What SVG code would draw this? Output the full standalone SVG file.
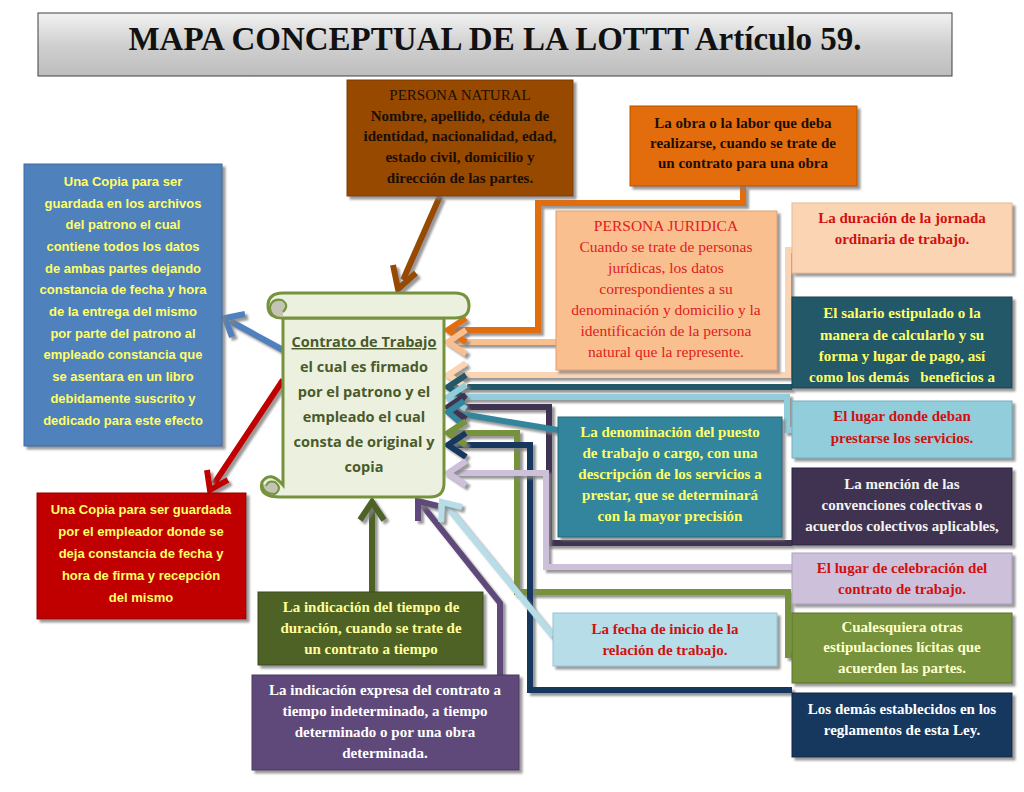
<svg xmlns="http://www.w3.org/2000/svg" width="1024" height="792" viewBox="0 0 1024 792">
<defs>
<linearGradient id="tg" x1="0" y1="0" x2="0" y2="1"><stop offset="0" stop-color="#f2f2f2"/><stop offset="0.5" stop-color="#d0d0d0"/><stop offset="1" stop-color="#bdbdbd"/></linearGradient>
<filter id="sh" filterUnits="userSpaceOnUse" x="0" y="0" width="1024" height="792"><feDropShadow dx="3" dy="3" stdDeviation="1" flood-color="#808080" flood-opacity="0.8"/></filter>
<style>
.b{filter:url(#sh)}
.c{fill:none;stroke-width:6;stroke-linejoin:miter;filter:url(#sh)}
</style>
</defs>
<rect width="1024" height="792" fill="#fff"/>
<g id="title"><rect x="38" y="13" width="914" height="63" fill="url(#tg)" stroke="#404040" stroke-width="1"/>
<text x="495" y="50" font-family="Liberation Serif,serif" font-size="33" font-weight="bold" text-anchor="middle" fill="#111">MAPA CONCEPTUAL DE LA LOTTT Artículo 59.</text></g>

<g id="connectors">
<polyline class="c" stroke="#974806" points="440,196 403,280"/>
<polyline class="c" stroke="#e36c09" points="743,186 743,203 538,203 538,330 450,330"/>
<polyline class="c" stroke="#fabf8f" points="556,342 450,342"/>
<polyline class="c" stroke="#fbd4b4" points="792,250 788,250 788,375 450,375"/>
<polyline class="c" stroke="#215867" points="792,387 450,387"/>
<polyline class="c" stroke="#92cddc" points="792,430 787,430 787,397 450,397"/>
<polyline class="c" stroke="#3f3151" points="792,543 549,543 549,407 450,407"/>
<polyline class="c" stroke="#31859c" points="558,430 450,412"/>
<polyline class="c" stroke="#76923c" points="792,655 788,655 788,592 517,592 517,433 450,433"/>
<polyline class="c" stroke="#17375e" points="792,690 530,690 530,445 450,445"/>
<polyline class="c" stroke="#ccc0da" points="792,567 546,567 546,473 450,473"/>
<polyline class="c" stroke="#4f81bd" points="283,350 230,321"/>
<polyline class="c" stroke="#c00000" points="283,380 214,484"/>
<polyline class="c" stroke="#4f6228" points="372,592 372,506"/>
<polyline class="c" stroke="#5f497a" points="500,675 500,603 422,505"/>
<polyline class="c" stroke="#b7dde8" points="553,636 446,505"/>
<g fill="none" stroke-width="6" filter="url(#sh)">
<polyline stroke="#974806" points="393,265 398,289 416,273"/>
<polyline stroke="#e36c09" points="466,318 448,330 466,342"/>
<polyline stroke="#fabf8f" points="466,330 448,342 466,354"/>
<polyline stroke="#fbd4b4" points="466,363 448,375 466,387"/>
<polyline stroke="#215867" points="466,375 448,387 466,399"/>
<polyline stroke="#92cddc" points="466,385 448,397 466,409"/>
<polyline stroke="#3f3151" points="466,395 448,407 466,419"/>
<polyline stroke="#31859c" points="464,401 448,412 462,424"/>
<polyline stroke="#76923c" points="466,421 448,433 466,445"/>
<polyline stroke="#17375e" points="466,433 448,445 466,457"/>
<polyline stroke="#ccc0da" points="466,461 448,473 466,485"/>
<polyline stroke="#4f81bd" points="232,337 225,318 245,314"/>
<polyline stroke="#c00000" points="207,470 210,490 228,480"/>
<polyline stroke="#4f6228" points="360,520 372,502 384,520"/>
<polyline stroke="#5f497a" points="418,521 418,501 438,506"/>
<polyline stroke="#b7dde8" points="441,522 442,502 462,507"/>
</g>
</g>

<g id="scroll">
<path d="M283,318 L283,485 Q270,470 262,482 Q258,498 283,497 L430,497 Q444,497 444,483 L444,318 Z" fill="#ebf1de" stroke="#76923c" stroke-width="3"/>
<path d="M283,293 L455,293 Q469,293 469,306 Q469,318 455,318 L283,318 Q268,318 268,306 Q268,293 283,293 Z" fill="#ebf1de" stroke="#76923c" stroke-width="3"/>
<path d="M283,318 Q270,318 270,307 Q272,298 282,300 Q290,305 283,312" fill="#c4c4b4" stroke="#76923c" stroke-width="2"/>
<path d="M262,482 Q262,494 275,494 Q283,488 275,482 Q268,480 266,486" fill="#c4c4b4" stroke="#76923c" stroke-width="2"/>
<g font-family="Open Sans,Liberation Sans,sans-serif" font-size="14.5" font-weight="bold" fill="#4a5a2a" text-anchor="middle">
<text x="364" y="347" text-decoration="underline">Contrato de Trabajo</text>
<text x="364" y="372">el cual es firmado</text>
<text x="364" y="397">por el patrono y el</text>
<text x="364" y="422">empleado el cual</text>
<text x="364" y="447">consta de original y</text>
<text x="364" y="472">copia</text></g>
</g>

<g font-family="Liberation Serif,serif" font-size="15" font-weight="bold" text-anchor="middle">
<g id="persona-natural"><rect class="b" x="347" y="80" width="226" height="116" fill="#974806" stroke="#7f3c05"/>
<g fill="#1a0f05"><text x="460" y="100" font-weight="normal">PERSONA NATURAL</text><text x="460" y="121">Nombre, apellido, cédula de</text><text x="460" y="141">identidad, nacionalidad, edad,</text><text x="460" y="162">estado civil, domicilio y</text><text x="460" y="183">dirección de las partes.</text></g></g>

<g id="obra"><rect class="b" x="630" y="106" width="227" height="80" fill="#e36c09" stroke="#b35500"/>
<g fill="#1a0f05"><text x="743" y="128">La obra o la labor que deba</text><text x="743" y="148">realizarse, cuando se trate de</text><text x="743" y="168">un contrato para una obra</text></g></g>

<g id="persona-juridica"><rect class="b" x="556" y="211" width="221" height="159" fill="#fabf8f" stroke="#e0a070"/>
<g fill="#e02020" font-weight="normal" font-size="15.5"><text x="666" y="231">PERSONA JURIDICA</text><text x="666" y="252">Cuando se trate de personas</text><text x="666" y="273">jurídicas, los datos</text><text x="666" y="294">correspondientes a su</text><text x="666" y="315">denominación y domicilio y la</text><text x="666" y="336">identificación de la persona</text><text x="666" y="357">natural que la represente.</text></g></g>

<g id="duracion"><rect class="b" x="792" y="203" width="220" height="70" fill="#fbd4b4" stroke="#e8b890"/>
<g fill="#d01010"><text x="902" y="223">La duración de la jornada</text><text x="902" y="244">ordinaria de trabajo.</text></g></g>

<g id="salario"><rect class="b" x="792" y="297" width="220" height="91" fill="#215867" stroke="#174450"/>
<g fill="#ffff66"><text x="902" y="318">El salario estipulado o la</text><text x="902" y="340">manera de calcularlo y su</text><text x="902" y="361">forma y lugar de pago, así</text><text x="902" y="382" xml:space="preserve">como los demás   beneficios a</text></g></g>

<g id="lugar-servicios"><rect class="b" x="792" y="401" width="220" height="57" fill="#92cddc" stroke="#70b0c0"/>
<g fill="#d01010"><text x="902" y="421">El lugar donde deban</text><text x="902" y="443">prestarse los servicios.</text></g></g>

<g id="mencion"><rect class="b" x="792" y="468" width="220" height="77" fill="#3f3151" stroke="#2e2340"/>
<g fill="#f2f2f2"><text x="902" y="489">La mención de las</text><text x="902" y="510">convenciones colectivas o</text><text x="902" y="531">acuerdos colectivos aplicables,</text></g></g>

<g id="lugar-celebracion"><rect class="b" x="792" y="553" width="220" height="51" fill="#ccc0da" stroke="#b0a0c0"/>
<g fill="#d01010"><text x="902" y="573">El lugar de celebración del</text><text x="902" y="594">contrato de trabajo.</text></g></g>

<g id="cualesquiera"><rect class="b" x="792" y="613" width="220" height="70" fill="#76923c" stroke="#5a7428"/>
<g fill="#ffffcc"><text x="902" y="632">Cualesquiera otras</text><text x="902" y="652">estipulaciones lícitas que</text><text x="902" y="673">acuerden las partes.</text></g></g>

<g id="demas"><rect class="b" x="792" y="693" width="220" height="64" fill="#17375e" stroke="#0f2540"/>
<g fill="#ffffff"><text x="902" y="714">Los demás establecidos en los</text><text x="902" y="735">reglamentos de esta Ley.</text></g></g>

<g id="denominacion"><rect class="b" x="558" y="417" width="224" height="120" fill="#31859c" stroke="#236878"/>
<g fill="#ffff66"><text x="670" y="437">La denominación del puesto</text><text x="670" y="458">de trabajo o cargo, con una</text><text x="670" y="479">descripción de los servicios a</text><text x="670" y="500">prestar, que se determinará</text><text x="670" y="521">con la mayor precisión</text></g></g>

<g id="fecha"><rect class="b" x="553" y="613" width="224" height="53" fill="#b7dde8" stroke="#98c4d4"/>
<g fill="#d01010"><text x="665" y="634">La fecha de inicio de la</text><text x="665" y="655">relación de trabajo.</text></g></g>

<g id="tiempo"><rect class="b" x="258" y="592" width="225" height="73" fill="#4f6228" stroke="#3c4a1c"/>
<g fill="#ffff99"><text x="371" y="612">La indicación del tiempo de</text><text x="371" y="633">duración, cuando se trate de</text><text x="371" y="654">un contrato a tiempo</text></g></g>

<g id="indicacion"><rect class="b" x="252" y="675" width="267" height="95" fill="#5f497a" stroke="#4a3860"/>
<g fill="#ffffff"><text x="385" y="695">La indicación expresa del contrato a</text><text x="385" y="716">tiempo indeterminado, a tiempo</text><text x="385" y="737">determinado o por una obra</text><text x="385" y="758">determinada.</text></g></g>
</g>

<g font-family="Liberation Sans,sans-serif" font-size="13" font-weight="bold" text-anchor="middle" fill="#ffff66">
<g id="copia-patrono"><rect class="b" x="24" y="164" width="198" height="282" fill="#4f81bd" stroke="#3a6aa0"/>
<text x="123" y="186">Una Copia para ser</text><text x="123" y="208">guardada en los archivos</text><text x="123" y="229">del patrono el cual</text><text x="123" y="251">contiene todos los datos</text><text x="123" y="273">de ambas partes dejando</text><text x="123" y="294">constancia de fecha y hora</text><text x="123" y="316">de la entrega del mismo</text><text x="123" y="338">por parte del patrono al</text><text x="123" y="359">empleado constancia que</text><text x="123" y="381">se asentara en un libro</text><text x="123" y="403">debidamente suscrito y</text><text x="123" y="425">dedicado para este efecto</text></g>

<g id="copia-empleador"><rect class="b" x="37" y="493" width="209" height="126" fill="#c00000" stroke="#900000"/>
<text x="141" y="514">Una Copia para ser guardada</text><text x="141" y="536">por el empleador donde se</text><text x="141" y="558">deja constancia de fecha y</text><text x="141" y="580">hora de firma y recepción</text><text x="141" y="602">del mismo</text></g>
</g>
</svg>
